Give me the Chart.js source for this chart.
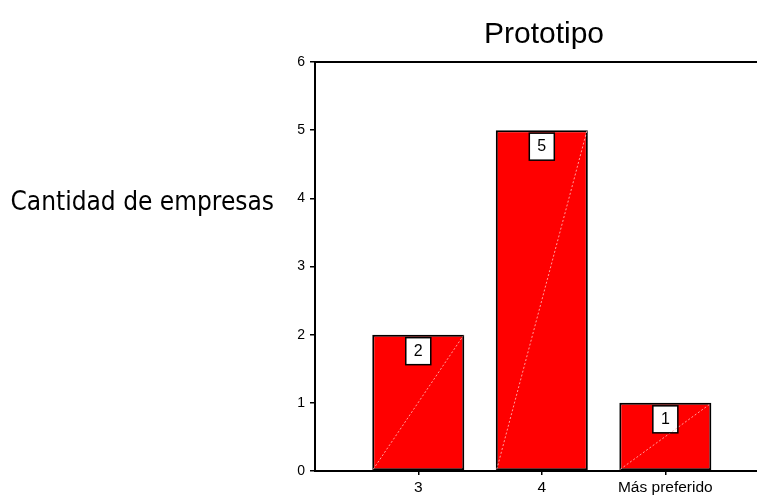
<!DOCTYPE html>
<html>
<head>
<meta charset="utf-8">
<script src="https://cdn.jsdelivr.net/npm/chart.js@4/dist/chart.umd.min.js"></script>
<style>
  html, body { margin: 0; padding: 0; background: #fff; }
  #wrap { width: 757px; height: 495px; }
</style>
</head>
<body>
<div id="wrap"><canvas id="chart" width="757" height="495"></canvas></div>
<script>
// Categories on the horizontal axis and the number of companies in each
const categories = ['3', '4', 'Más preferido'];
const companyCounts = [2, 5, 1];
const yTickValues = [0, 1, 2, 3, 4, 5, 6];
const chartTitle = 'Prototipo';
const yAxisTitle = 'Cantidad de empresas';

const SANS = '"Liberation Sans", Arial, sans-serif';

// Bars sit on a numeric axis at positions 1..n so the empty margin on the left can be kept
const barPoints = companyCounts.map((v, i) => ({ x: i + 1, y: v }));

// Diagonal stripe across each bar plus the boxed value label near its top
const barDecor = {
  id: 'barDecor',
  afterDatasetsDraw(chart) {
    const ctx = chart.ctx;
    const meta = chart.getDatasetMeta(0);
    meta.data.forEach((bar, i) => {
      const p = bar.getProps(['x', 'y', 'base', 'width'], true);
      const left = p.x - p.width / 2;
      const right = p.x + p.width / 2;
      const bw = 25, bh = 27;
      const bx = p.x - bw / 2;
      const by = p.y + 3;
      ctx.save();
      ctx.fillStyle = '#ffffff';
      ctx.fillRect(bx, by, bw, bh);
      ctx.strokeStyle = 'rgba(255,175,175,0.9)';
      ctx.lineWidth = 1;
      ctx.setLineDash([2, 2]);
      ctx.beginPath();
      ctx.moveTo(left + 1, p.base - 1);
      ctx.lineTo(right - 1, p.y + 1);
      ctx.stroke();
      ctx.setLineDash([]);
      ctx.strokeStyle = '#000';
      ctx.lineWidth = 1.5;
      ctx.strokeRect(bx, by, bw, bh);
      ctx.fillStyle = '#000';
      ctx.font = '16px ' + SANS;
      ctx.textAlign = 'center';
      ctx.textBaseline = 'middle';
      ctx.fillText(String(companyCounts[i]), p.x, by + bh / 2);
      ctx.restore();
    });
  }
};

// Top frame line, chart title and the horizontal y-axis caption
const frameAndText = {
  id: 'frameAndText',
  afterDraw(chart) {
    const { ctx, chartArea } = chart;
    ctx.save();
    ctx.strokeStyle = '#000';
    ctx.lineWidth = 2;
    ctx.beginPath();
    ctx.moveTo(chartArea.left, chartArea.top);
    ctx.lineTo(chartArea.right, chartArea.top);
    ctx.stroke();

    ctx.fillStyle = '#000';
    ctx.textBaseline = 'alphabetic';
    ctx.textAlign = 'center';
    ctx.font = '30px ' + SANS;
    ctx.fillText(chartTitle, (chartArea.left + chartArea.right) / 2 + 8, 43);

    ctx.textAlign = 'right';
    ctx.font = '26px "DejaVu Sans Condensed", "DejaVu Sans", sans-serif';
    ctx.fillText(yAxisTitle, chartArea.left - 41, chartArea.top + 148);
    ctx.restore();
  }
};

new Chart(document.getElementById('chart'), {
  type: 'bar',
  data: {
    datasets: [{
      data: barPoints,
      backgroundColor: '#ff0000',
      borderColor: '#000000',
      borderWidth: 2,
      borderSkipped: false,
      categoryPercentage: 1,
      barPercentage: 0.745
    }]
  },
  options: {
    responsive: false,
    animation: false,
    devicePixelRatio: 1,
    layout: { padding: { top: 62, right: 0, bottom: 0, left: 0 } },
    plugins: {
      legend: { display: false },
      title: { display: false },
      tooltip: { enabled: false }
    },
    scales: {
      x: {
        type: 'linear',
        offset: false,
        min: 0.164,
        max: 3.742,
        afterBuildTicks: s => { s.ticks = categories.map((_, i) => ({ value: i + 1 })); },
        afterFit: s => { s.height = 24; },
        ticks: {
          autoSkip: false,
          maxRotation: 0,
          padding: 3,
          color: '#000',
          font: { family: SANS, size: 15.5 },
          callback: v => categories[v - 1]
        },
        grid: { display: true, offset: false, drawOnChartArea: false, drawTicks: true, tickLength: 4, color: '#000', lineWidth: 1.5 },
        border: { display: true, color: '#000', width: 2 }
      },
      y: {
        min: 0,
        max: 6,
        afterBuildTicks: s => { s.ticks = yTickValues.map(v => ({ value: v })); },
        afterFit: s => { s.width = 315; },
        ticks: {
          padding: 5,
          color: '#000',
          font: { family: SANS, size: 14 }
        },
        grid: { display: true, drawOnChartArea: false, drawTicks: true, tickLength: 5, color: '#000', lineWidth: 1.5 },
        border: { display: true, color: '#000', width: 2 }
      }
    }
  },
  plugins: [barDecor, frameAndText]
});
</script>
</body>
</html>
